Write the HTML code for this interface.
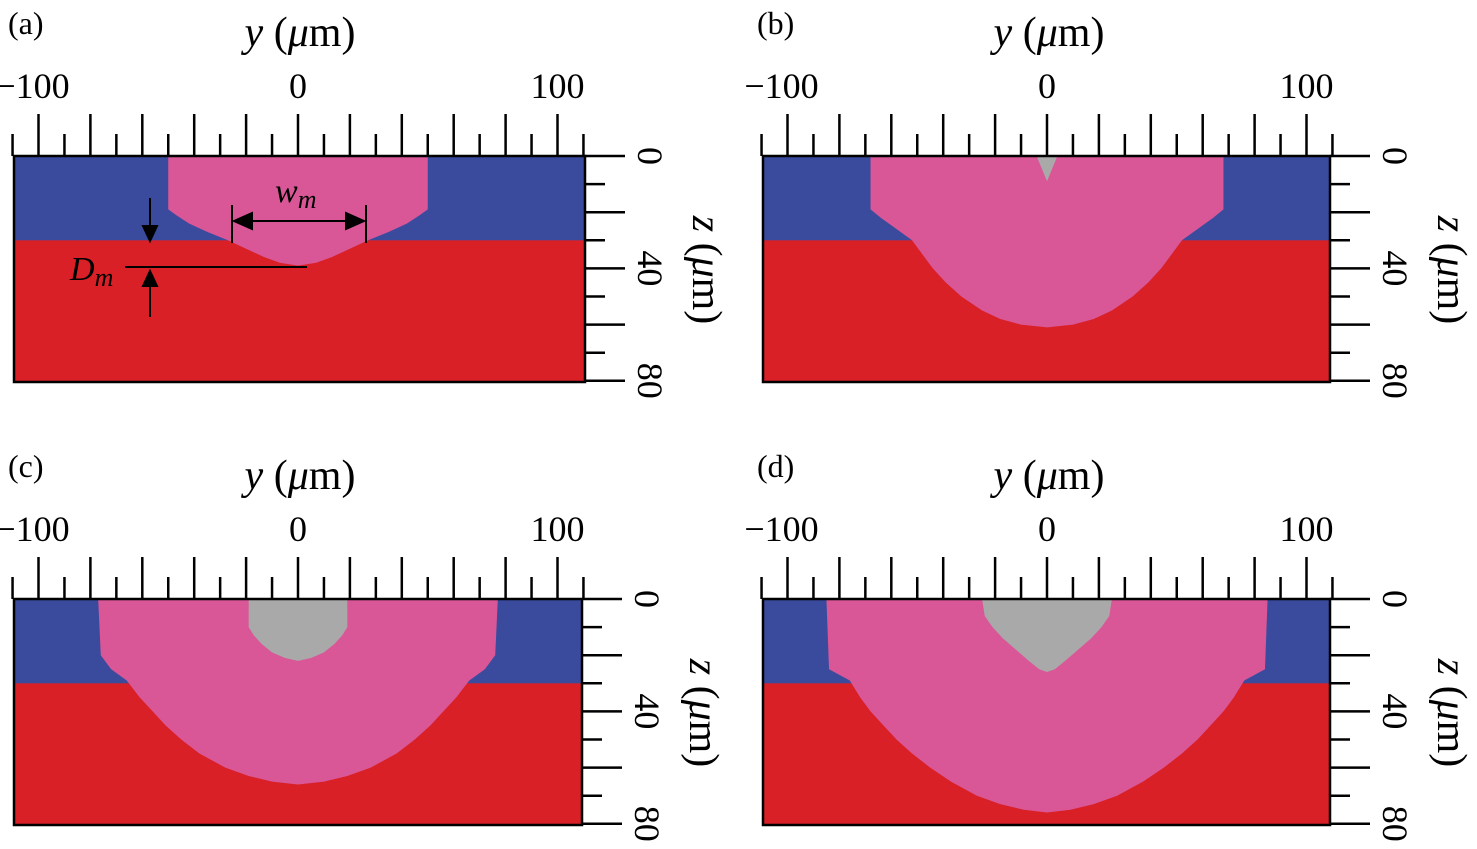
<!DOCTYPE html>
<html><head><meta charset="utf-8"><style>
body{margin:0;background:#fff;}
svg{display:block;font-family:"Liberation Serif",serif;}
</style></head><body>
<svg id="fig" width="1477" height="849" viewBox="0 0 1477 849" xmlns="http://www.w3.org/2000/svg"></svg>
<script>
// panel data: pool half-width profiles (z in µm, half-width in µm)
const panelLabels = ["(a)","(b)","(c)","(d)"];
const poolZ = [
  [0,19,21,24,27,30,33,36,38,39],
  [0,19,22,30,35,40,45,50,55,58,60,61],
  [0,20,25,29,35,40,45,50,55,60,63,65,66],
  [0,25,29,35,40,45,50,55,60,65,70,73,75,76]
];
const poolHW = [
  [50,50,47,42,35,27,20,13,7,0],
  [68,68,64,52,48,44,39,33,25,18,10,0],
  [77,76,72,66,61,56,51,45,38,28,19,10,0],
  [85,84,76,72,68,63,58,52,45,37,27,18,9,0]
];
const keyZ = [[],[0,9],[0,10,13,16,19,21,22],[0,6,10,14,18,22,25,26]];
const keyHW = [[],[4,0],[19,19,17,14,10,5,0],[25,24,21,17,12,7,3,0]];
const layerDepth = 30;
const yTicks = [-100,0,100];
const zTicks = [0,40,80];

const NS="http://www.w3.org/2000/svg";
const svg=document.getElementById('fig');
function mk(tag,attrs,parent){const e=document.createElementNS(NS,tag);for(const k in attrs)e.setAttribute(k,attrs[k]);(parent||svg).appendChild(e);return e;}
const offsets=[[0,0],[749,0],[0,443],[749,443]];
const rightEdges=[585,581,582,581];
const X0=14,Y0=156,Y1=382;
const pxY=2.595, pxZ=2.81, cx=298;
offsets.forEach((o,i)=>{
  const X1=rightEdges[i];
  const g=mk('g',{transform:`translate(${o[0]},${o[1]})`});
  
  
  const sx=v=>cx+v*pxY, sz=v=>Y0+v*pxZ;
  const red=mk('rect',{x:X0,y:Y0,width:X1-X0,height:Y1-Y0,fill:'#d92027'},g);
  
  
  const blue=mk('rect',{x:X0,y:Y0,width:X1-X0,height:layerDepth*pxZ,fill:'#3a4b9e'},g);
  
  
  function shape(zs,hs,fill,name){
    if(!zs.length)return;
    let pts=[];
    zs.forEach((z,k)=>pts.push(sx(-hs[k])+','+sz(z)));
    for(let k=zs.length-1;k>=0;k--)pts.push(sx(hs[k])+','+sz(zs[k]));
    const p=mk('polygon',{points:pts.join(' '),fill:fill},g);
    
    
  }
  shape(poolZ[i],poolHW[i],'#d95797','melt-pool');
  shape(keyZ[i],keyHW[i],'#a9a9a9','keyhole');
  mk('rect',{x:X0,y:Y0,width:X1-X0,height:Y1-Y0,fill:'none',stroke:'#000','stroke-width':2.5},g);
  for(let v=-110;v<=110;v+=10){
    const long=v%20===0;
    mk('line',{x1:sx(v),x2:sx(v),y1:Y0,y2:Y0-(long?42:22),stroke:'#000','stroke-width':2.5},g);
  }
  yTicks.forEach(v=>{const t=mk('text',{x:sx(v)-(v<0?6:0),y:98,'font-size':36,'text-anchor':'middle'},g);t.textContent=(v<0?'\u2212':'')+Math.abs(v);
    });
  for(let v=0;v<=80;v+=10){
    const long=v%20===0;
    mk('line',{x1:X1,x2:X1+(long?40:20),y1:sz(v),y2:sz(v),stroke:'#000','stroke-width':2.5},g);
  }
  zTicks.forEach(v=>{const t=mk('text',{transform:`translate(${X1+53},${sz(v)}) rotate(90)`,'font-size':36,'text-anchor':'middle'},g);t.textContent=v;
    });
  const lab=mk('text',{x:8,y:34,'font-size':32},g);lab.textContent=panelLabels[i];
  
  const yt=mk('text',{x:300,y:46,'font-size':42,'text-anchor':'middle'},g);
  yt.innerHTML='<tspan font-style="italic">y</tspan> (<tspan font-style="italic">μ</tspan>m)';
  
  const zt=mk('text',{transform:`translate(${X1+108},270) rotate(90)`,'font-size':42,'text-anchor':'middle'},g);
  zt.innerHTML='<tspan font-style="italic">z</tspan> (<tspan font-style="italic">μ</tspan>m)';
  
  if(i===0){
    const a=mk('g',{stroke:'#000','stroke-width':2,fill:'#000'},g);
    
    mk('line',{x1:232,x2:232,y1:205,y2:243},a);mk('line',{x1:366,x2:366,y1:205,y2:243},a);
    mk('line',{x1:245,x2:353,y1:221,y2:221},a);
    mk('polygon',{points:'234,221 252,213 252,229'},a);mk('polygon',{points:'364,221 346,213 346,229'},a);
    mk('line',{x1:125,x2:307,y1:267,y2:267},a);
    mk('line',{x1:150,x2:150,y1:198,y2:230},a);mk('polygon',{points:'150,241 143,226 157,226'},a);
    mk('line',{x1:150,x2:150,y1:285,y2:317},a);mk('polygon',{points:'150,271 143,286 157,286'},a);
    const w=mk('text',{x:275,y:202,'font-size':34,'font-style':'italic'},g);w.innerHTML='w<tspan font-size="26" dy="6">m</tspan>';
    
    const d=mk('text',{x:70,y:280,'font-size':34,'font-style':'italic'},g);d.innerHTML='D<tspan font-size="26" dy="6">m</tspan>';
    
  }
});
</script>
</body></html>
